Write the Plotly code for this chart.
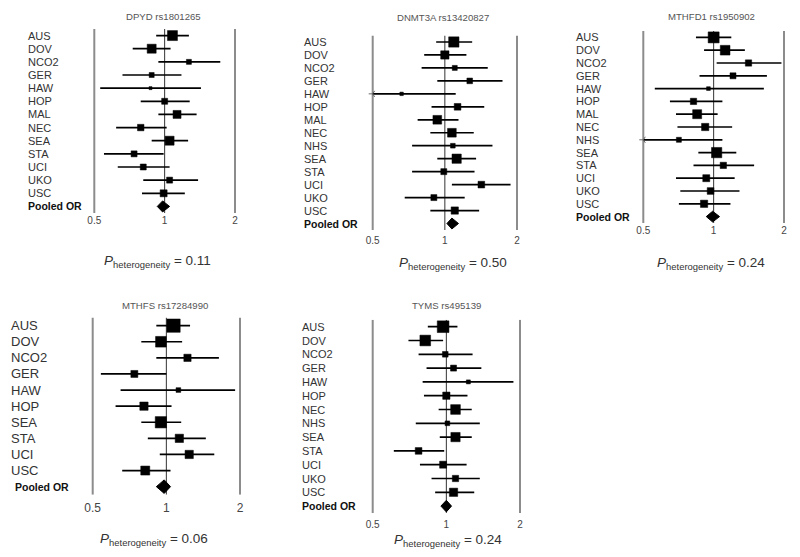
import math
import plotly.graph_objects as go

W, H = 800, 557

# ---------------- DATA ----------------
# Panel 1: DPYD rs1801265
dpyd_studies = ["AUS", "DOV", "NCO2", "GER", "HAW", "HOP", "MAL", "NEC", "SEA", "STA", "UCI", "UKO", "USC"]
dpyd_or = [1.08, 0.88, 1.27, 0.88, 0.87, 1.00, 1.13, 0.79, 1.05, 0.74, 0.81, 1.05, 0.99]
dpyd_lo = [0.92, 0.73, 0.94, 0.66, 0.53, 0.79, 0.94, 0.62, 0.88, 0.55, 0.63, 0.81, 0.80]
dpyd_hi = [1.27, 1.06, 1.73, 1.18, 1.43, 1.28, 1.37, 1.02, 1.26, 0.99, 1.05, 1.39, 1.22]
dpyd_w = [100, 81, 25, 25, 9, 36, 64, 42, 81, 36, 36, 36, 49]
dpyd_pooled = [0.98, 0.93, 1.05]
dpyd_phet = "0.11"

# Panel 2: DNMT3A rs13420827
dnmt_studies = ["AUS", "DOV", "NCO2", "GER", "HAW", "HOP", "MAL", "NEC", "NHS", "SEA", "STA", "UCI", "UKO", "USC"]
dnmt_or = [1.09, 1.00, 1.10, 1.27, 0.66, 1.13, 0.93, 1.07, 1.08, 1.12, 0.99, 1.42, 0.90, 1.10]
dnmt_lo = [0.92, 0.82, 0.80, 0.93, 0.39, 0.88, 0.77, 0.87, 0.73, 0.93, 0.73, 1.07, 0.68, 0.87]
dnmt_hi = [1.30, 1.23, 1.51, 1.74, 1.11, 1.46, 1.14, 1.32, 1.58, 1.35, 1.33, 1.88, 1.21, 1.39]
dnmt_w = [106, 69, 25, 32, 12, 45, 76, 76, 22, 86, 36, 45, 36, 53]
dnmt_pooled = [1.07, 1.02, 1.14]
dnmt_phet = "0.50"

# Panel 3: MTHFD1 rs1950902
mthfd1_studies = ["AUS", "DOV", "NCO2", "GER", "HAW", "HOP", "MAL", "NEC", "NHS", "SEA", "STA", "UCI", "UKO", "USC"]
mthfd1_or = [1.00, 1.12, 1.41, 1.21, 0.95, 0.82, 0.85, 0.92, 0.71, 1.03, 1.10, 0.93, 0.97, 0.91]
mthfd1_lo = [0.84, 0.91, 1.03, 0.87, 0.56, 0.65, 0.69, 0.70, 0.46, 0.86, 0.82, 0.69, 0.72, 0.71]
mthfd1_hi = [1.19, 1.36, 1.95, 1.69, 1.64, 1.09, 1.04, 1.20, 1.09, 1.25, 1.49, 1.23, 1.29, 1.18]
mthfd1_w = [121, 94, 40, 36, 14, 40, 81, 53, 25, 106, 40, 49, 45, 53]
mthfd1_pooled = [0.99, 0.93, 1.06]
mthfd1_phet = "0.24"

# Panel 4: MTHFS rs17284990
mthfs_studies = ["AUS", "DOV", "NCO2", "GER", "HAW", "HOP", "SEA", "STA", "UCI", "USC"]
mthfs_or = [1.07, 0.95, 1.22, 0.74, 1.12, 0.81, 0.95, 1.13, 1.24, 0.82]
mthfs_lo = [0.91, 0.79, 0.91, 0.54, 0.65, 0.62, 0.79, 0.84, 0.94, 0.66]
mthfs_hi = [1.25, 1.16, 1.64, 1.00, 1.91, 1.05, 1.15, 1.45, 1.57, 1.04]
mthfs_w = [177, 114, 53, 49, 22, 69, 128, 69, 69, 81]
mthfs_pooled = [0.98, 0.91, 1.04]
mthfs_phet = "0.06"

# Panel 5: TYMS rs495139
tyms_studies = ["AUS", "DOV", "NCO2", "GER", "HAW", "HOP", "NEC", "NHS", "SEA", "STA", "UCI", "UKO", "USC"]
tyms_or = [0.97, 0.82, 0.99, 1.07, 1.23, 1.00, 1.09, 1.01, 1.09, 0.77, 0.97, 1.09, 1.07]
tyms_lo = [0.84, 0.70, 0.77, 0.83, 0.80, 0.81, 0.93, 0.75, 0.94, 0.61, 0.78, 0.87, 0.90]
tyms_hi = [1.11, 0.97, 1.28, 1.39, 1.88, 1.22, 1.27, 1.37, 1.27, 0.98, 1.21, 1.37, 1.30]
tyms_w = [137, 114, 32, 36, 16, 53, 94, 22, 86, 45, 49, 40, 69]
tyms_pooled = [1.00, 0.95, 1.05]
tyms_phet = "0.24"

titles = ["DPYD rs1801265", "DNMT3A rs13420827", "MTHFD1 rs1950902", "MTHFS rs17284990", "TYMS rs495139"]
tick_vals = [0.5, 1, 2]
tick_text = ["0.5", "1", "2"]
pooled_label = "Pooled OR"

panels = [
    (dpyd_studies, dpyd_or, dpyd_lo, dpyd_hi, dpyd_w, dpyd_pooled, dpyd_phet),
    (dnmt_studies, dnmt_or, dnmt_lo, dnmt_hi, dnmt_w, dnmt_pooled, dnmt_phet),
    (mthfd1_studies, mthfd1_or, mthfd1_lo, mthfd1_hi, mthfd1_w, mthfd1_pooled, mthfd1_phet),
    (mthfs_studies, mthfs_or, mthfs_lo, mthfs_hi, mthfs_w, mthfs_pooled, mthfs_phet),
    (tyms_studies, tyms_or, tyms_lo, tyms_hi, tyms_w, tyms_pooled, tyms_phet),
]

# ---------------- LAYOUT GEOMETRY (pixels) ----------------
geom = [
    dict(x05=94.3, x2=235.0, top=29.0, bot=213.0, lab_x=26.0, lab_fs=11, pool_x=26.0, pool_fs=10.5,
         title_x=163, title_y=17, p_x=157, p_y=262, tfs=10, ticklen=0),
    dict(x05=372.7, x2=517.0, top=35.5, bot=230.0, lab_x=301.7, lab_fs=11, pool_x=301.7, pool_fs=10.5,
         title_x=442.5, title_y=17.3, p_x=453, p_y=263, tfs=10, ticklen=1),
    dict(x05=643.3, x2=784.0, top=31.0, bot=223.0, lab_x=574.3, lab_fs=11, pool_x=574.3, pool_fs=10.5,
         title_x=711.5, title_y=16.7, p_x=711, p_y=263, tfs=10, ticklen=0),
    dict(x05=92.7, x2=240.0, top=317.6, bot=494.7, lab_x=9.3, lab_fs=13, pool_x=12.7, pool_fs=10.5,
         title_x=165, title_y=305, p_x=154, p_y=539, tfs=12, ticklen=2),
    dict(x05=372.7, x2=520.0, top=319.8, bot=513.0, lab_x=300.0, lab_fs=11, pool_x=300.0, pool_fs=10.5,
         title_x=446, title_y=305.7, p_x=448, p_y=540, tfs=10, ticklen=2),
]

FONT = "Arial, 'Liberation Sans', sans-serif"
PAD = 12
X_MIN, X_MAX = tick_vals[0], tick_vals[-1]
DIAMOND_H = 0.42

fig = go.Figure()
annotations = []
layout_axes = {}

for i, ((studies, est, lo, hi, w, pooled, phet), g, title) in enumerate(zip(panels, geom, titles), start=1):
    sfx = "" if i == 1 else str(i)
    xa, ya = "x" + sfx, "y" + sfx
    n = len(studies)
    span = g["x2"] - g["x05"]
    padlog = PAD * math.log10(X_MAX / X_MIN) / span

    layout_axes["xaxis" + sfx] = dict(
        domain=[(g["x05"] - PAD) / W, (g["x2"] + PAD) / W], type="log",
        range=[math.log10(X_MIN) - padlog, math.log10(X_MAX) + padlog],
        tickvals=tick_vals, ticktext=tick_text, ticks="outside" if g["ticklen"] else "",
        ticklen=max(g["ticklen"], 1),
        tickcolor="rgba(0,0,0,0)", showgrid=False, zeroline=False, showline=False,
        tickfont=dict(size=g["tfs"], color="#444", family=FONT), anchor=ya, fixedrange=True)
    layout_axes["yaxis" + sfx] = dict(
        domain=[1 - g["bot"] / H, 1 - g["top"] / H], range=[n + 0.5, -0.5],
        visible=False, anchor=xa, fixedrange=True)

    # reference lines at 0.5, 1, 2
    for v in tick_vals:
        side = v != 1
        fig.add_trace(go.Scatter(
            x=[v, v], y=[-0.5, n + 0.5], mode="lines", xaxis=xa, yaxis=ya,
            line=dict(color="#8c8c8c" if side else "#333333", width=2 if side else 1),
            hoverinfo="skip", showlegend=False, cliponaxis=False))

    rows = list(range(n))
    lo_c = [max(v, X_MIN) for v in lo]
    fig.add_trace(go.Scatter(
        x=est, y=rows, mode="markers", xaxis=xa, yaxis=ya,
        marker=dict(symbol="square", color="black", opacity=1, size=[math.sqrt(v) for v in w],
                    line=dict(width=0.5, color="black")),
        error_x=dict(type="data", symmetric=False,
                     array=[h - e for h, e in zip(hi, est)],
                     arrayminus=[e - l for e, l in zip(est, lo_c)],
                     width=0, thickness=1.7, color="black"),
        showlegend=False, cliponaxis=False))

    # arrows for truncated lower limits
    trunc = [r for r, l in zip(rows, lo) if l < X_MIN]
    if trunc:
        fig.add_trace(go.Scatter(
            x=[X_MIN] * len(trunc), y=trunc, mode="markers", xaxis=xa, yaxis=ya,
            marker=dict(symbol="y-left", size=5, color="#666", line=dict(width=1, color="#666")),
            hoverinfo="skip", showlegend=False, cliponaxis=False))

    # pooled diamond
    pe, pl, ph = pooled
    fig.add_trace(go.Scatter(
        x=[pl, pe, ph, pe, pl], y=[n, n - DIAMOND_H, n, n + DIAMOND_H, n],
        mode="lines", fill="toself", fillcolor="black", line=dict(color="black", width=1),
        xaxis=xa, yaxis=ya, showlegend=False, hoverinfo="skip", cliponaxis=False))

    # row labels
    for r, s in enumerate(studies):
        annotations.append(dict(
            text=s, xref="paper", yref=ya, x=g["lab_x"] / W, y=r, xanchor="left", yanchor="middle",
            showarrow=False, font=dict(size=g["lab_fs"], color="#333", family=FONT)))
    annotations.append(dict(
        text="<b>%s</b>" % pooled_label, xref="paper", yref=ya, x=g["pool_x"] / W, y=n,
        xanchor="left", yanchor="middle", showarrow=False,
        font=dict(size=g["pool_fs"], color="#111", family=FONT)))

    # title
    annotations.append(dict(
        text=title, xref="paper", yref="paper", x=g["title_x"] / W, y=1 - g["title_y"] / H,
        xanchor="center", yanchor="middle", showarrow=False,
        font=dict(size=9.6, color="#555", family=FONT)))

    # P heterogeneity
    annotations.append(dict(
        text="<i>P</i><sub>heterogeneity</sub> = %s" % phet, xref="paper", yref="paper",
        x=g["p_x"] / W, y=1 - g["p_y"] / H, xanchor="center", yanchor="middle", showarrow=False,
        font=dict(size=13.5, color="#333", family=FONT)))

fig.update_layout(
    width=W, height=H, margin=dict(l=0, r=0, t=0, b=0),
    paper_bgcolor="white", plot_bgcolor="white",
    font=dict(family=FONT), annotations=annotations, **layout_axes)

fig.write_html("out.html", config={"displayModeBar": False},
               post_script="document.body.style.margin='0';document.body.style.overflow='hidden';")
